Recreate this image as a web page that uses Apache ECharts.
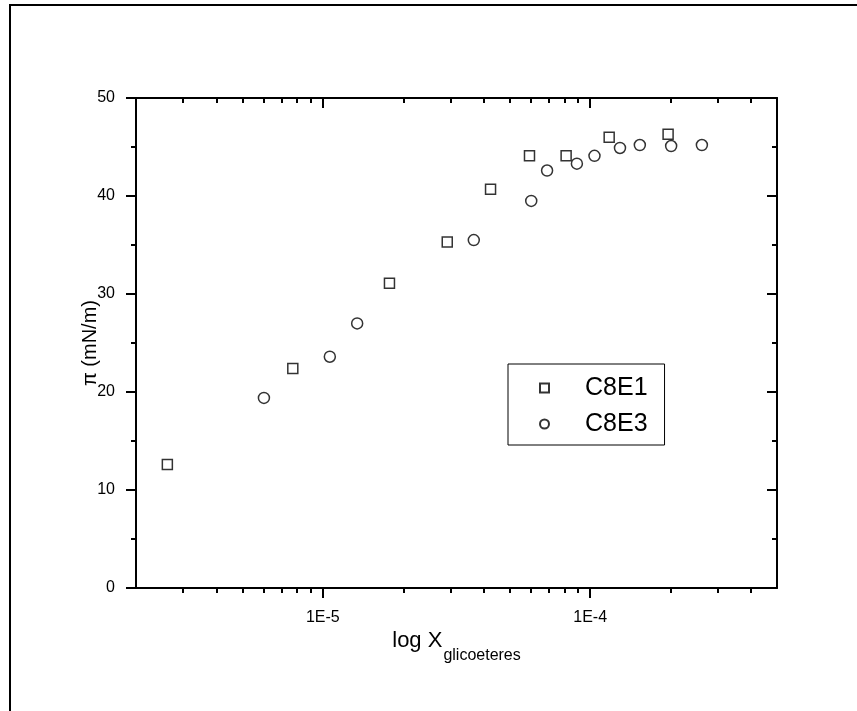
<!DOCTYPE html>
<html>
<head>
<meta charset="utf-8">
<script src="https://cdn.jsdelivr.net/npm/echarts@6/dist/echarts.min.js"></script>
<style>
html,body{margin:0;padding:0;background:#fff;}
#c{width:857px;height:711px;}
</style>
</head>
<body>
<div id="c"></div>
<script>
// ---- data ----
var seriesNames = ['C8E1', 'C8E3'];
var c8e1X = [2.62e-6, 7.72e-6, 1.775e-5, 2.92e-5, 4.24e-5, 5.93e-5, 8.13e-5, 1.178e-4, 1.957e-4];
var c8e1Y = [12.6, 22.4, 31.1, 35.3, 40.7, 44.1, 44.1, 46.0, 46.3];
var c8e3X = [6.02e-6, 1.062e-5, 1.344e-5, 3.67e-5, 6.02e-5, 6.90e-5, 8.92e-5, 1.038e-4, 1.293e-4, 1.534e-4, 2.009e-4, 2.618e-4];
var c8e3Y = [19.4, 23.6, 27.0, 35.5, 39.5, 42.6, 43.3, 44.1, 44.9, 45.2, 45.1, 45.2];
var xMajorTicks = [1e-5, 1e-4];
var xTickLabels = ['1E-5', '1E-4'];
var xMinorTicks = [3e-6, 4e-6, 5e-6, 6e-6, 7e-6, 8e-6, 9e-6,
                   2e-5, 3e-5, 4e-5, 5e-5, 6e-5, 7e-5, 8e-5, 9e-5,
                   2e-4, 3e-4, 4e-4];
var xMin = 2e-6, xMax = 5e-4;
var yMin = 0, yMax = 50, yInterval = 10;
var xTitleMain = 'log X';
var xTitleSub = 'glicoeteres';
var yTitle = '\u03c0 (mN/m)';

function zip(xs, ys) { return xs.map(function (x, i) { return [x, ys[i]]; }); }

var FONT = '"Liberation Sans", Arial, sans-serif';
var black = '#000';

function xAxisDef(pos, ticks, len, inside, showLine, showLabel) {
  return {
    type: 'log', logBase: 10, min: xMin, max: xMax, position: pos,
    axisLine: { show: showLine, onZero: false, lineStyle: { color: black, width: 2 } },
    axisTick: { show: true, customValues: ticks, length: len, inside: inside, lineStyle: { color: black, width: 2 } },
    minorTick: { show: false },
    splitLine: { show: false },
    axisLabel: showLabel ? {
      show: true, customValues: xMajorTicks, color: black, fontSize: 16, fontFamily: FONT, margin: 22,
      formatter: function (v) {
        var best = 0, bd = Infinity;
        for (var i = 0; i < xMajorTicks.length; i++) {
          var d = Math.abs(Math.log10(v) - Math.log10(xMajorTicks[i]));
          if (d < bd) { bd = d; best = i; }
        }
        return xTickLabels[best];
      }
    } : { show: false }
  };
}

var xAxes = [
  xAxisDef('bottom', xMajorTicks, 10, false, true, true),
  xAxisDef('bottom', xMinorTicks, 5, false, false, false),
  xAxisDef('top', xMajorTicks, 10, true, true, false),
  xAxisDef('top', xMinorTicks, 5, true, false, false)
];
xAxes[0].name = '{a|' + xTitleMain + '}{b|' + xTitleSub + '}';
xAxes[0].nameLocation = 'middle';
xAxes[0].nameGap = 42;
xAxes[0].nameMoveOverlap = false;
xAxes[0].nameTextStyle = {
  color: black, fontFamily: FONT,
  rich: {
    a: { fontSize: 22, fontFamily: FONT, color: black, verticalAlign: 'top', lineHeight: 22 },
    b: { fontSize: 16, fontFamily: FONT, color: black, verticalAlign: 'top', padding: [18, 0, 0, 1] }
  }
};

var option = {
  animation: false,
  backgroundColor: '#fff',
  textStyle: { fontFamily: FONT },
  grid: { left: 136, right: 80, top: 98, bottom: 123, containLabel: false },
  legend: {
    orient: 'vertical', left: 508, top: 364,
    padding: [10, 17, 7, 31],
    itemGap: 8, itemWidth: 9, itemHeight: 9,
    borderColor: black, borderWidth: 1, backgroundColor: '#fff',
    textStyle: { color: black, fontSize: 25, fontFamily: FONT, lineHeight: 28, padding: [0, 0, 0, 31] },
    data: seriesNames
  },
  xAxis: xAxes,
  yAxis: [
    {
      type: 'value', min: yMin, max: yMax, interval: yInterval, position: 'left',
      name: yTitle, nameLocation: 'middle', nameGap: 36, nameRotate: 90, nameMoveOverlap: false,
      nameTextStyle: { color: black, fontSize: 20, fontFamily: FONT },
      axisLine: { show: true, lineStyle: { color: black, width: 2 } },
      axisTick: { show: true, length: 10, lineStyle: { color: black, width: 2 } },
      minorTick: { show: true, splitNumber: 2, length: 5, lineStyle: { color: black, width: 2 } },
      splitLine: { show: false },
      axisLabel: { color: black, fontSize: 16, fontFamily: FONT, margin: 21 }
    },
    {
      type: 'value', min: yMin, max: yMax, interval: yInterval, position: 'right',
      axisLine: { show: true, lineStyle: { color: black, width: 2 } },
      axisTick: { show: true, inside: true, length: 10, lineStyle: { color: black, width: 2 } },
      minorTick: { show: true, splitNumber: 2, length: 5, lineStyle: { color: black, width: 2 } },
      splitLine: { show: false },
      axisLabel: { show: false }
    }
  ],
  graphic: [{
    type: 'rect', shape: { x: 10, y: 5, width: 900, height: 800 },
    style: { fill: 'none', stroke: black, lineWidth: 2 }, silent: true, z: 100
  }],
  series: [
    {
      name: seriesNames[0], type: 'scatter', xAxisIndex: 0, yAxisIndex: 0,
      symbol: 'rect', symbolSize: 10,
      itemStyle: { color: '#fff', borderColor: black, borderWidth: 1.5 },
      data: zip(c8e1X, c8e1Y)
    },
    {
      name: seriesNames[1], type: 'scatter', xAxisIndex: 0, yAxisIndex: 0,
      symbol: 'circle', symbolSize: 11,
      itemStyle: { color: '#fff', borderColor: black, borderWidth: 1.5 },
      data: zip(c8e3X, c8e3Y)
    }
  ]
};

var chart = echarts.init(document.getElementById('c'), null, { renderer: 'canvas' });
chart.setOption(option);
</script>
</body>
</html>
